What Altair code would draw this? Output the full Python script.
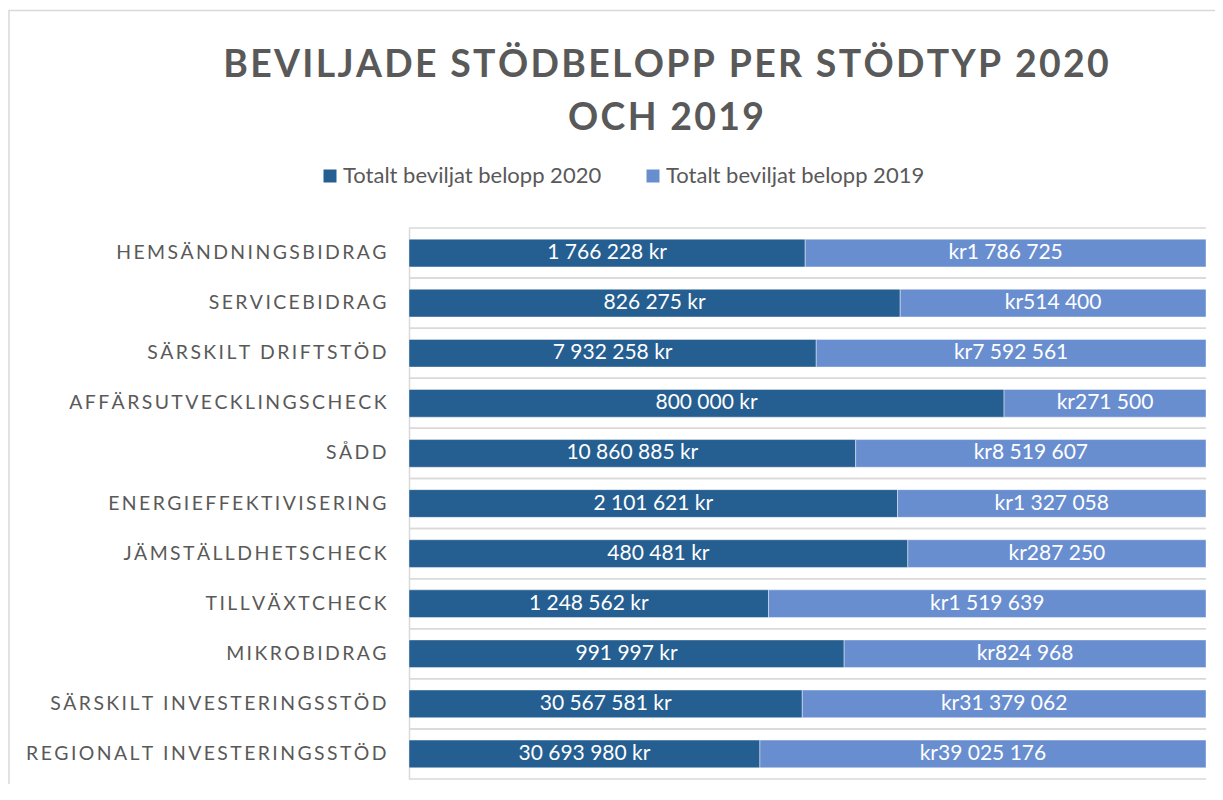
import altair as alt
import pandas as pd

categories = [
    "HEMSÄNDNINGSBIDRAG",
    "SERVICEBIDRAG",
    "SÄRSKILT DRIFTSTÖD",
    "AFFÄRSUTVECKLINGSCHECK",
    "SÅDD",
    "ENERGIEFFEKTIVISERING",
    "JÄMSTÄLLDHETSCHECK",
    "TILLVÄXTCHECK",
    "MIKROBIDRAG",
    "SÄRSKILT INVESTERINGSSTÖD",
    "REGIONALT INVESTERINGSSTÖD",
]
values_2020 = [1766228, 826275, 7932258, 800000, 10860885, 2101621, 480481,
               1248562, 991997, 30567581, 30693980]
values_2019 = [1786725, 514400, 7592561, 271500, 8519607, 1327058, 287250,
               1519639, 824968, 31379062, 39025176]
series = ["Totalt beviljat belopp 2020", "Totalt beviljat belopp 2019"]
colors = ["#255E91", "#698ED0"]
title_lines = ["BEVILJADE STÖDBELOPP PER STÖDTYP 2020", "OCH 2019"]

SP = "\u2009"
HS = "\u200a"


def spaced(s, sep):
    return sep.join(list(s))


def fmt(v):
    return f"{v:,}".replace(",", " ")


labels = [spaced(c, SP) for c in categories]

rows = []
for i, lab in enumerate(labels):
    rows.append({"cat": lab, "series": series[0], "ord": 0,
                 "value": values_2020[i], "txt": fmt(values_2020[i]) + " kr"})
    rows.append({"cat": lab, "series": series[1], "ord": 1,
                 "value": values_2019[i], "txt": "kr" + fmt(values_2019[i])})
df = pd.DataFrame(rows)
cat_df = pd.DataFrame({"cat": labels})

W, H = 797, 551
GRAY = "#595959"
GRID = "#D9D9D9"

base = alt.Chart(df).transform_stack(
    stack="value", groupby=["cat"], offset="normalize",
    sort=[alt.SortField("ord", order="ascending")], as_=["x0", "x1"]
).transform_calculate(mid="(datum.x0 + datum.x1) / 2")

yaxis = alt.Axis(labelFont="Lato", labelFontSize=19.4, labelColor=GRAY,
                 labelPadding=23, ticks=False, domain=True,
                 domainColor=GRID, domainWidth=1.5, grid=False,
                 labelLimit=400)
yscale = alt.Scale(paddingInner=0, paddingOuter=0)
yenc = alt.Y("cat:N", sort=labels, title=None, scale=yscale, axis=yaxis)

xscale = alt.Scale(domain=[0, 1], nice=False, zero=True)

grid_top = alt.Chart(cat_df).mark_rule(color=GRID, strokeWidth=1.5).encode(
    y=alt.Y("cat:N", sort=labels, title=None, scale=yscale, axis=yaxis, bandPosition=0),
    x=alt.value(0), x2=alt.value(W),
)
grid_bot = alt.Chart(cat_df).mark_rule(color=GRID, strokeWidth=1.5).encode(
    y=alt.Y("cat:N", sort=labels, title=None, scale=yscale, axis=yaxis, bandPosition=1),
    x=alt.value(0), x2=alt.value(W),
)

bars = base.mark_bar(height=alt.RelativeBandSize(0.553), stroke="#FFFFFF",
                     strokeWidth=0.6, strokeOpacity=0.7).encode(
    y=yenc,
    x=alt.X("x0:Q", scale=xscale, axis=None),
    x2="x1:Q",
    color=alt.Color("series:N", scale=alt.Scale(domain=series, range=colors),
                    legend=alt.Legend(orient="none", legendX=-90, legendY=-63,
                                      direction="horizontal", title=None,
                                      symbolType="square", symbolSize=169,
                                      symbolStrokeWidth=0, labelFont="Lato",
                                      labelFontSize=22, labelColor=GRAY,
                                      labelOffset=2, columnPadding=40,
                                      labelLimit=400)),
)

texts = base.mark_text(font="Lato", fontSize=21, color="white", baseline="middle").encode(
    y=yenc,
    x=alt.X("mid:Q", scale=xscale, axis=None),
    text="txt:N",
)

title1 = alt.Chart(pd.DataFrame({"t": [spaced(title_lines[0], HS)]})).mark_text(
    font="Lato", fontSize=37.4, fontWeight="bold", color=GRAY, align="center",
    baseline="alphabetic").encode(x=alt.value(666 - 409), y=alt.value(77 - 228), text="t:N")
title2 = alt.Chart(pd.DataFrame({"t": [spaced(title_lines[1], HS)]})).mark_text(
    font="Lato", fontSize=37.4, fontWeight="bold", color=GRAY, align="center",
    baseline="alphabetic").encode(x=alt.value(666 - 409), y=alt.value(129.5 - 228), text="t:N")

frame = alt.Chart(pd.DataFrame({"a": [0]})).mark_rect(
    fill=None, stroke=GRID, strokeWidth=1.5).encode(
    x=alt.value(-400), x2=alt.value(W + 60), y=alt.value(-217.5), y2=alt.value(H + 80))

chart = alt.layer(frame, grid_top, grid_bot, bars, texts, title1, title2).properties(
    width=W, height=H,
    padding={"left": 401, "top": 220, "right": 9, "bottom": 5},
    autosize=alt.AutoSizeParams(type="none"),
).configure_view(stroke=None)

chart.save("out.html", embed_options={"renderer": "svg", "actions": False})
